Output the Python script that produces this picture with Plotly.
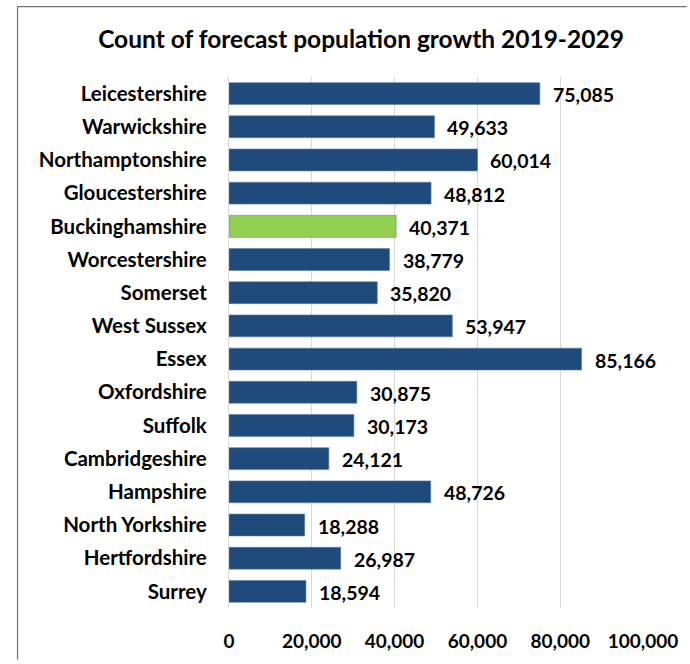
import plotly.graph_objects as go

# Forecast population growth by county, 2019-2029
counties = [
    "Leicestershire", "Warwickshire", "Northamptonshire", "Gloucestershire",
    "Buckinghamshire", "Worcestershire", "Somerset", "West Sussex", "Essex",
    "Oxfordshire", "Suffolk", "Cambridgeshire", "Hampshire", "North Yorkshire",
    "Hertfordshire", "Surrey",
]
growth = [
    75085, 49633, 60014, 48812, 40371, 38779, 35820, 53947, 85166,
    30875, 30173, 24121, 48726, 18288, 26987, 18594,
]
highlight = "Buckinghamshire"

x_ticks = [0, 20000, 40000, 60000, 80000, 100000]

BLUE = "#1F4A7C"
GREEN = "#92D050"
FONT = "Lato"

colors = [GREEN if c == highlight else BLUE for c in counties]

W, H = 690, 664
ML, MR, MT, MB = 229, 44, 77, 52
pw = W - ML - MR
ph = H - MT - MB

fig = go.Figure(
    go.Bar(
        y=counties,
        x=growth,
        orientation="h",
        marker=dict(color=colors, line=dict(color="#5F7FA8", width=0.6)),
        width=0.66,
        hoverinfo="skip",
    )
)

# value labels to the right of each bar
for c, v in zip(counties, growth):
    fig.add_annotation(
        x=v, y=c, xref="x", yref="y",
        text=f"{v:,}", showarrow=False,
        xanchor="left", xshift=11, yshift=-1,
        font=dict(family=FONT, size=19.5, color="#000000", weight="bold"),
    )

# outer chart frame (top and left edges; the rest runs off the canvas)
def px_x(px):
    return (px - ML) / pw


def px_y(py):
    return (H - MB - py) / ph


frame = dict(color="#6F6F6F", width=1.2)
fig.add_shape(type="line", xref="paper", yref="paper",
              x0=px_x(16), x1=px_x(W), y0=px_y(6), y1=px_y(6), line=frame)
fig.add_shape(type="line", xref="paper", yref="paper",
              x0=px_x(16), x1=px_x(16), y0=px_y(6), y1=px_y(H), line=frame)

fig.update_layout(
    width=W, height=H,
    margin=dict(l=ML, r=MR, t=MT, b=MB),
    paper_bgcolor="white", plot_bgcolor="white",
    showlegend=False,
    title=dict(
        text="Count of forecast population growth 2019-2029",
        x=361 / W, xref="container", xanchor="center",
        y=1 - 39 / H, yref="container", yanchor="middle",
        font=dict(family=FONT, size=24.5, color="#000000", weight="bold"),
    ),
    bargap=0.34,
)

fig.update_xaxes(
    range=[0, 100000],
    tickvals=x_ticks,
    ticktext=[f"{t:,}" for t in x_ticks],
    showgrid=True, gridcolor="#D9D9D9", gridwidth=1.2,
    zeroline=False, showline=False,
    ticks="", ticklabelstandoff=20,
    tickfont=dict(family=FONT, size=19, color="#000000", weight="bold"),
)
fig.update_yaxes(
    autorange="reversed",
    showgrid=False, zeroline=False,
    showline=True, linecolor="#D9D9D9", linewidth=1.2,
    ticks="", ticklabelstandoff=17,
    tickfont=dict(family=FONT, size=20.5, color="#000000", weight="bold"),
)

fig.write_html("out.html", config={"displayModeBar": False})
